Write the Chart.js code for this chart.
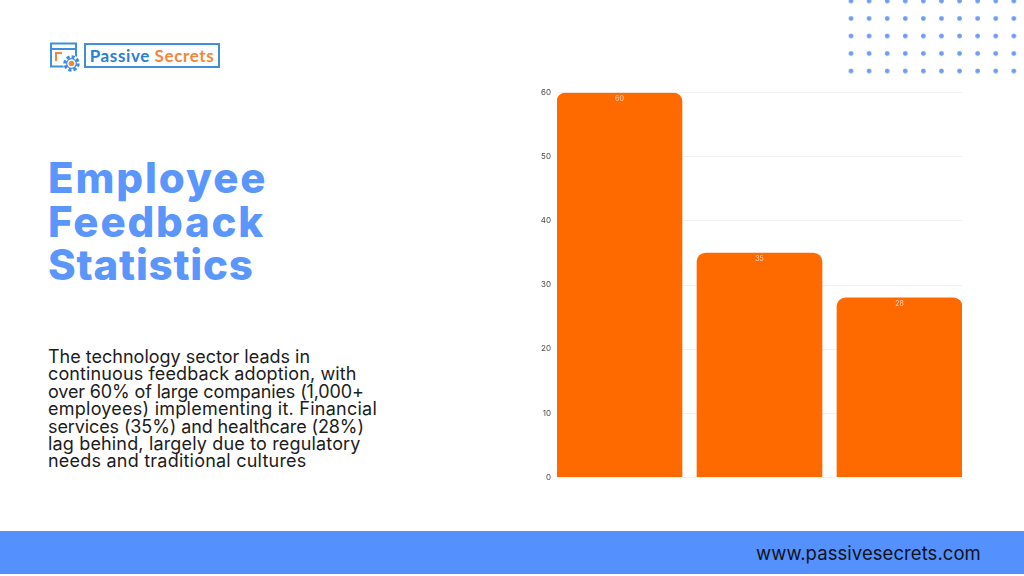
<!DOCTYPE html>
<html>
<head>
<meta charset="utf-8">
<script src="https://cdn.jsdelivr.net/npm/chart.js@4/dist/chart.umd.min.js"></script>
<style>
    html, body { margin: 0; padding: 0; background: #fff; }
    body { width: 1024px; height: 576px; position: relative; overflow: hidden; font-family: Inter, sans-serif; }
    .abs { position: absolute; white-space: nowrap; }
    #dots {
        left: 842px; top: -8px; width: 180px; height: 88px;
        background-image: radial-gradient(circle at 9px 9px, #6d9cf2 0, #6d9cf2 1.9px, transparent 2.8px);
        background-size: 18.1px 17.5px;
    }
    #logoBox { left: 84px; top: 43px; width: 132px; height: 21px; border: 2px solid #3f8fdc; font: 700 17px/22px Lato, sans-serif; text-align: center; letter-spacing: 0.6px; color: #2b7fd0; }
    #logoBox span { color: #f0873a; }
    #title { left: 48px; top: 156px; color: #5a96fb; font: 800 42px/43.5px Inter, sans-serif; letter-spacing: 1.3px; }
    #body { left: 48px; top: 348px; color: #1c1c1c; font: 400 18px/17.4px Inter, sans-serif; }
    #band { left: 0; top: 531px; width: 1024px; height: 43px; background: #5591fd; }
    #url { left: 756px; top: 541px; color: #10131c; font: 400 18.5px/24px Inter, sans-serif; letter-spacing: 0.06px; }
    #chartWrap { left: 530px; top: 82px; width: 432px; height: 406px; }
</style>
</head>
<body>
<div class="abs" id="dots"></div>

<svg class="abs" style="left:48px;top:40px" width="36" height="34" viewBox="0 0 36 34">
    <rect x="3" y="3.5" width="25" height="23" fill="none" stroke="#3f8fdc" stroke-width="2"/>
    <line x1="3" y1="9" x2="28" y2="9" stroke="#3f8fdc" stroke-width="2"/>
    <path d="M8 21 V13 H14" fill="none" stroke="#f0873a" stroke-width="2"/>
    <circle cx="23.5" cy="23.5" r="8.5" fill="#fff"/>
    <circle cx="23.5" cy="23.5" r="6.5" fill="#fff" stroke="#3f8fdc" stroke-width="3.5" stroke-dasharray="3 2"/>
    <circle cx="23.5" cy="23.5" r="4.8" fill="none" stroke="#3f8fdc" stroke-width="1.2"/>
    <circle cx="23.5" cy="23.5" r="2.8" fill="#f0873a"/>
</svg>
<div class="abs" id="logoBox">Passive <span>Secrets</span></div>

<div class="abs" id="title"><span style="letter-spacing:1.9px">Employee</span><br><span style="letter-spacing:1.8px">Feedback</span><br><span style="letter-spacing:.8px">Statistics</span></div>
<div class="abs" id="body">The technology sector leads in<br><span style="letter-spacing:.12px">continuous feedback adoption, with</span><br><span style="letter-spacing:-.14px">over 60% of large companies (1,000+</span><br><span style="letter-spacing:.25px">employees) implementing it. Financial</span><br><span style="letter-spacing:-.11px">services (35%) and healthcare (28%)</span><br><span style="letter-spacing:.16px">lag behind, largely due to regulatory</span><br><span style="letter-spacing:.22px">needs and traditional cultures</span></div>

<div class="abs" id="chartWrap"><canvas id="chart"></canvas></div>

<div class="abs" id="band"></div>
<div class="abs" id="url">www.passivesecrets.com</div>

<script>
    const categories = ['Technology', 'Financial services', 'Healthcare'];
    const adoption = [60, 35, 28];

    // Etiquettes de valeur en haut de chaque barre
    const barValueLabels = {
        id: 'barValueLabels',
        afterDatasetsDraw(chart) {
            const ctx = chart.ctx;
            ctx.save();
            ctx.fillStyle = 'rgba(255, 255, 255, 0.75)';
            ctx.font = '7px Inter, sans-serif';
            ctx.textAlign = 'center';
            ctx.textBaseline = 'middle';
            chart.getDatasetMeta(0).data.forEach((bar, i) => {
                ctx.fillText(adoption[i], bar.x, bar.y + 6);
            });
            ctx.restore();
        }
    };

    new Chart(document.getElementById('chart'), {
        type: 'bar',
        data: {
            datasets: [{
                label: 'Adoption',
                data: categories.map((name, i) => ({ x: i + 1, y: adoption[i] })),
                backgroundColor: '#ff6a00',
                barThickness: 125,
                borderRadius: { topLeft: 9, topRight: 9 },
                borderSkipped: 'bottom'
            }]
        },
        options: {
            responsive: true,
            maintainAspectRatio: false,
            animation: false,
            plugins: { legend: { display: false }, tooltip: { enabled: false } },
            scales: {
                x: {
                    type: 'linear',
                    display: false,
                    offset: false,
                    min: 0.5536,
                    max: 3.4464
                },
                y: {
                    min: 0,
                    max: 60,
                    afterFit: (axis) => { axis.width = 27; },
                    grid: { color: '#f1f1f1', drawTicks: false },
                    border: { display: false },
                    ticks: {
                        stepSize: 10,
                        padding: 6,
                        color: '#4a4a4a',
                        font: { size: 8, family: 'Inter, sans-serif' }
                    }
                }
            }
        },
        plugins: [barValueLabels]
    });
</script>
</body>
</html>
